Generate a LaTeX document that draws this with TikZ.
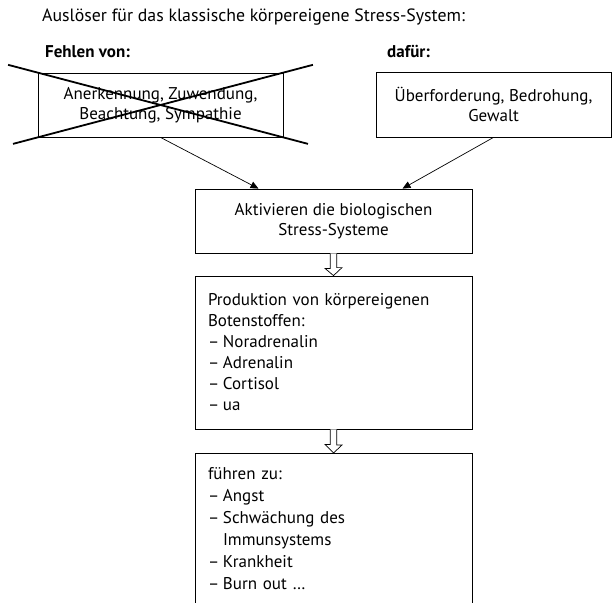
\documentclass[tikz,border=0pt]{standalone}
\usepackage{fontspec}
\setmainfont{PT Sans}
\usetikzlibrary{positioning,arrows.meta,calc}
\newcommand{\itm}{\makebox[15bp][l]{--}}

\begin{document}
\begin{tikzpicture}[x=1bp,y=-1bp,font=\fontsize{17bp}{20bp}\selectfont,
      box/.style={draw,line width=0.8bp,align=center,inner sep=0pt},
      list/.style={box,align=left,inner xsep=13bp,text width=251bp,minimum width=277bp},
      lbl/.style={anchor=base west,inner sep=0pt,font=\fontsize{17bp}{20bp}\selectfont\bfseries},
      cross/.style={line width=1.8bp},
      arr/.style={-{Triangle[length=8bp,width=7bp]},line width=0.7bp},
      hollow/.style={draw,line width=0.7bp,fill=white}]
    \useasboundingbox (0,0) rectangle (612,603);
    \clip (0,0) rectangle (612,603);
    \node[anchor=base west,inner sep=0pt,font=\fontsize{17.8bp}{20bp}\selectfont] (title) at (42,22) {Auslöser für das klassische körpereigene Stress-System:};
    \node[lbl] (misslbl) at (45,58) {Fehlen von:};
    \node[lbl] (pluslbl) at (387,58) {dafür:};
    \node[box,minimum width=245bp,minimum height=64bp] (miss) at (160.5,105) {Anerkennung, Zuwendung,\\Beachtung, Sympathie};
    \node[box,minimum width=235bp,minimum height=65bp] (plus) at (493.5,104.5) {Überforderung, Bedrohung,\\Gewalt};
    \node[box,minimum width=277bp,minimum height=64bp] (act) at (333.5,221) {Aktivieren die biologischen\\Stress-Systeme};
    \node[list,minimum height=153bp,font=\fontsize{17bp}{21bp}\selectfont] (prod) at (333.5,352.5) {Produktion von körpereigenen\\Botenstoffen:\\\itm Noradrenalin\\\itm Adrenalin\\\itm Cortisol\\\itm ua};
    \node[list,anchor=north,inner ysep=14bp,font=\fontsize{17bp}{22bp}\selectfont] (eff) at (333.5,453) {\parbox[c][170bp][t]{251bp}{führen zu:\\\itm Angst\\\itm Schwächung des\\\hspace*{15bp}Immunsystems\\\itm Krankheit\\\itm Burn out \dots}};
    % crossed out box
    \draw[cross] ($(miss.north west)!-0.12!(miss.south east)$) -- ($(miss.north west)!1.1!(miss.south east)$);
    \draw[cross] ($(miss.south west)!-0.1!(miss.north east)$) -- ($(miss.south west)!1.12!(miss.north east)$);
    \foreach \src/\dx in {miss/-75,plus/69} {
      \draw[arr] (\src.south) -- ([xshift=\dx bp]act.north);
    }
    \foreach \a/\b in {act/prod,prod/eff} {
      \draw[hollow] ([xshift=-3.3bp]\a.south) -- ++(0,15) -- ++(-5.2,0) -- (\b.north)
        -- ++(8.5,-8) -- ++(-5.2,0) -- ([xshift=3.3bp]\a.south);
    }
  \end{tikzpicture}
\end{document}
